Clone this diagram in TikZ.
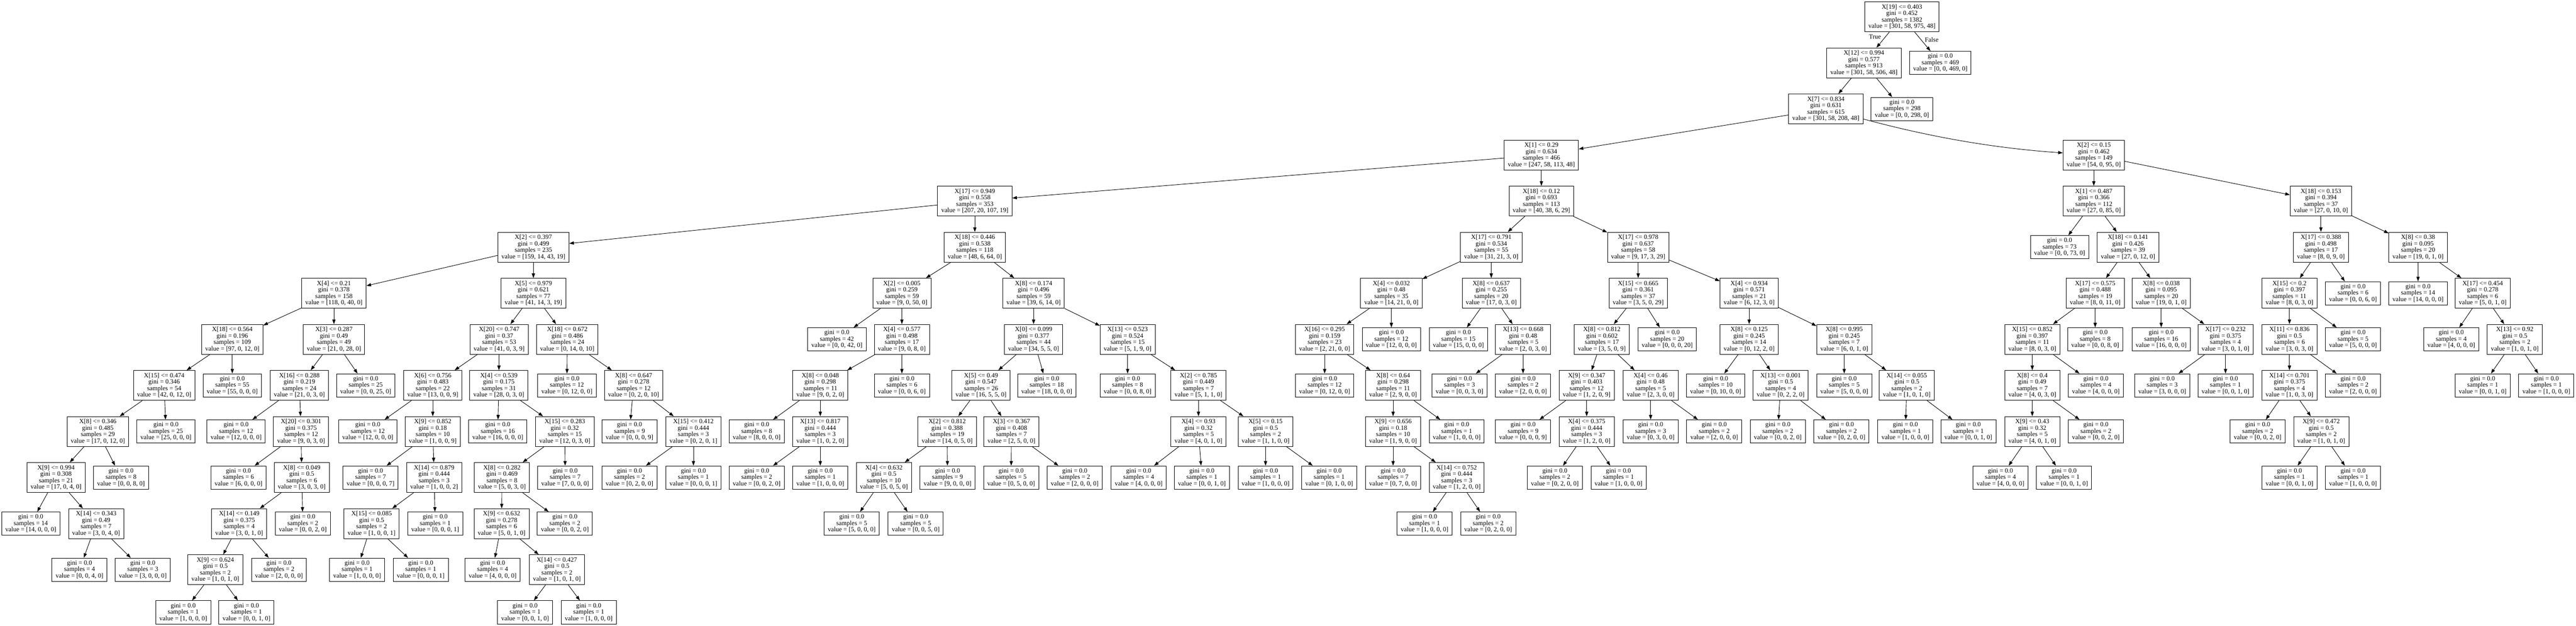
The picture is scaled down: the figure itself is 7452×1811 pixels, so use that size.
\documentclass[tikz,border=0pt]{standalone}
\usepackage{fontspec}
\setmainfont{Liberation Serif}
\usetikzlibrary{arrows.meta}
\tikzset{
  split/.style={draw, line width=1pt, align=center, inner xsep=8pt, inner ysep=1pt, minimum height=65pt, font=\fontsize{14}{14}\selectfont},
  leaf/.style={draw, line width=1pt, align=center, inner xsep=8pt, inner ysep=1pt, minimum height=50.5pt, font=\fontsize{14}{14}\selectfont},
  lbl/.style={inner sep=0pt, font=\fontsize{14}{14}\selectfont},
  edge/.style={-{Triangle[length=10pt,width=7pt]}, line width=1pt}
}
\newcommand\mysplit[7]{\node[split] (#1) at (#2,#3) {#4\\gini = #5\\samples = #6\\value = [#7]};}
\newcommand\myleaf[5]{\node[leaf] (#1) at (#2,#3) {gini = 0.0\\samples = #4\\value = [#5]};}
\begin{document}
\begin{tikzpicture}[x=0.75pt, y=-0.75pt]
\fill[white] (0,0) rectangle (7452,1811);
\useasboundingbox (0,0) rectangle (7452,1811);
% rank 0-3
\mysplit{n0}{5502}{48.6}{X[19] <= 0.403}{0.452}{1382}{301, 58, 975, 48}
\mysplit{n1}{5392}{182}{X[12] <= 0.994}{0.577}{913}{301, 58, 506, 48}
\myleaf{l1}{5613}{182}{469}{0, 0, 469, 0}
\mysplit{n2}{5282}{315.4}{X[7] <= 0.834}{0.631}{615}{301, 58, 208, 48}
\myleaf{l2}{5502}{315.4}{298}{0, 0, 298, 0}
\mysplit{n3}{4459}{448.8}{X[1] <= 0.29}{0.634}{466}{247, 58, 113, 48}
\mysplit{n67}{6057}{448.8}{X[2] <= 0.15}{0.462}{149}{54, 0, 95, 0}
% left big subtree
\mysplit{n4}{2820}{582.2}{X[17] <= 0.949}{0.558}{353}{207, 20, 107, 19}
\mysplit{n47}{4459}{582.2}{X[18] <= 0.12}{0.693}{113}{40, 38, 6, 29}
\mysplit{n5}{1543}{715.6}{X[2] <= 0.397}{0.499}{235}{159, 14, 43, 19}
\mysplit{n32}{2820}{715.6}{X[18] <= 0.446}{0.538}{118}{48, 6, 64, 0}
\mysplit{n6}{966}{849}{X[4] <= 0.21}{0.378}{158}{118, 0, 40, 0}
\mysplit{n18}{1543}{849}{X[5] <= 0.979}{0.621}{77}{41, 14, 3, 19}
\mysplit{n7}{672}{982.4}{X[18] <= 0.564}{0.196}{109}{97, 0, 12, 0}
\mysplit{n12}{966}{982.4}{X[3] <= 0.287}{0.49}{49}{21, 0, 28, 0}
\mysplit{n8}{475}{1115.8}{X[15] <= 0.474}{0.346}{54}{42, 0, 12, 0}
\myleaf{l3}{672}{1115.8}{55}{55, 0, 0, 0}
\mysplit{n9}{283}{1249.2}{X[8] <= 0.346}{0.485}{29}{17, 0, 12, 0}
\myleaf{l4}{480}{1249.2}{25}{25, 0, 0, 0}
\mysplit{n10}{162}{1382.6}{X[9] <= 0.994}{0.308}{21}{17, 0, 4, 0}
\myleaf{l5}{350}{1382.6}{8}{0, 0, 8, 0}
\myleaf{l6}{89}{1516}{14}{14, 0, 0, 0}
\mysplit{n11}{278}{1516}{X[14] <= 0.343}{0.49}{7}{3, 0, 4, 0}
\myleaf{l7}{230}{1649.4}{4}{0, 0, 4, 0}
\myleaf{l8}{413}{1649.4}{3}{3, 0, 0, 0}
\mysplit{n13}{866}{1115.8}{X[16] <= 0.288}{0.219}{24}{21, 0, 3, 0}
\myleaf{l9}{1058}{1115.8}{25}{0, 0, 25, 0}
\myleaf{l10}{683}{1249.2}{12}{12, 0, 0, 0}
\mysplit{n14}{871}{1249.2}{X[20] <= 0.301}{0.375}{12}{9, 0, 3, 0}
\myleaf{l11}{690}{1382.6}{6}{6, 0, 0, 0}
\mysplit{n15}{873}{1382.6}{X[8] <= 0.049}{0.5}{6}{3, 0, 3, 0}
\mysplit{n16}{692}{1516}{X[14] <= 0.149}{0.375}{4}{3, 0, 1, 0}
\myleaf{l12}{876}{1516}{2}{0, 0, 2, 0}
\mysplit{n17}{623}{1649.4}{X[9] <= 0.624}{0.5}{2}{1, 0, 1, 0}
\myleaf{l13}{807}{1649.4}{2}{2, 0, 0, 0}
\myleaf{l14}{530}{1772.7}{1}{1, 0, 0, 0}
\myleaf{l15}{713}{1772.7}{1}{0, 0, 1, 0}
\mysplit{n19}{1444}{982.4}{X[20] <= 0.747}{0.37}{53}{41, 0, 3, 9}
\mysplit{n29}{1641}{982.4}{X[18] <= 0.672}{0.486}{24}{0, 14, 0, 10}
\mysplit{n20}{1252}{1115.8}{X[6] <= 0.756}{0.483}{22}{13, 0, 0, 9}
\mysplit{n24}{1443}{1115.8}{X[4] <= 0.539}{0.175}{31}{28, 0, 3, 0}
\myleaf{l16}{1064}{1249.2}{12}{12, 0, 0, 0}
\mysplit{n21}{1252}{1249.2}{X[9] <= 0.852}{0.18}{10}{1, 0, 0, 9}
\myleaf{l17}{1072}{1382.6}{7}{0, 0, 0, 7}
\mysplit{n22}{1256}{1382.6}{X[14] <= 0.879}{0.444}{3}{1, 0, 0, 2}
\mysplit{n23}{1075}{1516}{X[15] <= 0.085}{0.5}{2}{1, 0, 0, 1}
\myleaf{l18}{1259}{1516}{1}{0, 0, 0, 1}
\myleaf{l19}{1033}{1649.4}{1}{1, 0, 0, 0}
\myleaf{l20}{1217}{1649.4}{1}{0, 0, 0, 1}
\myleaf{l21}{1440}{1249.2}{16}{16, 0, 0, 0}
\mysplit{n25}{1634}{1249.2}{X[15] <= 0.283}{0.32}{15}{12, 0, 3, 0}
\mysplit{n26}{1452}{1382.6}{X[8] <= 0.282}{0.469}{8}{5, 0, 3, 0}
\myleaf{l22}{1635}{1382.6}{7}{7, 0, 0, 0}
\mysplit{n27}{1451}{1516}{X[9] <= 0.632}{0.278}{6}{5, 0, 1, 0}
\myleaf{l23}{1634}{1516}{2}{0, 0, 2, 0}
\myleaf{l24}{1425}{1649.4}{4}{4, 0, 0, 0}
\mysplit{n28}{1611}{1649.4}{X[14] <= 0.427}{0.5}{2}{1, 0, 1, 0}
\myleaf{l25}{1519}{1772.7}{1}{0, 0, 1, 0}
\myleaf{l26}{1703}{1772.7}{1}{1, 0, 0, 0}
\myleaf{l27}{1640}{1115.8}{12}{0, 12, 0, 0}
\mysplit{n30}{1833}{1115.8}{X[8] <= 0.647}{0.278}{12}{0, 2, 0, 10}
\myleaf{l28}{1821}{1249.2}{9}{0, 0, 0, 9}
\mysplit{n31}{2006}{1249.2}{X[15] <= 0.412}{0.444}{3}{0, 2, 0, 1}
\myleaf{l29}{1821}{1382.6}{2}{0, 2, 0, 0}
\myleaf{l30}{2006}{1382.6}{1}{0, 0, 0, 1}
\mysplit{n33}{2609}{849}{X[2] <= 0.005}{0.259}{59}{9, 0, 50, 0}
\mysplit{n37}{2990}{849}{X[8] <= 0.174}{0.496}{59}{39, 6, 14, 0}
\myleaf{l31}{2421}{982.4}{42}{0, 0, 42, 0}
\mysplit{n34}{2609}{982.4}{X[4] <= 0.577}{0.498}{17}{9, 0, 8, 0}
\mysplit{n35}{2373}{1115.8}{X[8] <= 0.048}{0.298}{11}{9, 0, 2, 0}
\myleaf{l32}{2609}{1115.8}{6}{0, 0, 6, 0}
\myleaf{l33}{2189}{1249.2}{8}{8, 0, 0, 0}
\mysplit{n36}{2373}{1249.2}{X[13] <= 0.817}{0.444}{3}{1, 0, 2, 0}
\myleaf{l34}{2189}{1382.6}{2}{0, 0, 2, 0}
\myleaf{l35}{2373}{1382.6}{1}{1, 0, 0, 0}
\mysplit{n38}{2990}{982.4}{X[0] <= 0.099}{0.377}{44}{34, 5, 5, 0}
\mysplit{n43}{3262}{982.4}{X[13] <= 0.523}{0.524}{15}{5, 1, 9, 0}
\mysplit{n39}{2838}{1115.8}{X[5] <= 0.49}{0.547}{26}{16, 5, 5, 0}
\myleaf{l36}{3028}{1115.8}{18}{18, 0, 0, 0}
\mysplit{n40}{2740}{1249.2}{X[2] <= 0.812}{0.388}{19}{14, 0, 5, 0}
\mysplit{n42}{2926}{1249.2}{X[3] <= 0.367}{0.408}{7}{2, 5, 0, 0}
\mysplit{n41}{2557}{1382.6}{X[4] <= 0.632}{0.5}{10}{5, 0, 5, 0}
\myleaf{l37}{2741}{1382.6}{9}{9, 0, 0, 0}
\myleaf{l38}{2464}{1516}{5}{5, 0, 0, 0}
\myleaf{l39}{2649}{1516}{5}{0, 0, 5, 0}
\myleaf{l40}{2925}{1382.6}{5}{0, 5, 0, 0}
\myleaf{l41}{3109}{1382.6}{2}{2, 0, 0, 0}
\myleaf{l42}{3262}{1115.8}{8}{0, 0, 8, 0}
\mysplit{n44}{3467}{1115.8}{X[2] <= 0.785}{0.449}{7}{5, 1, 1, 0}
\mysplit{n45}{3467}{1249.2}{X[4] <= 0.93}{0.32}{5}{4, 0, 1, 0}
\mysplit{n46}{3661}{1249.2}{X[5] <= 0.15}{0.5}{2}{1, 1, 0, 0}
\myleaf{l43}{3294}{1382.6}{4}{4, 0, 0, 0}
\myleaf{l44}{3477}{1382.6}{1}{0, 0, 1, 0}
\myleaf{l45}{3661}{1382.6}{1}{1, 0, 0, 0}
\myleaf{l46}{3845}{1382.6}{1}{0, 1, 0, 0}
% X[18] <= 0.12 subtree
\mysplit{n48}{4314}{715.6}{X[17] <= 0.791}{0.534}{55}{31, 21, 3, 0}
\mysplit{n56}{4739}{715.6}{X[17] <= 0.978}{0.637}{58}{9, 17, 3, 29}
\mysplit{n49}{4025}{849}{X[4] <= 0.032}{0.48}{35}{14, 21, 0, 0}
\mysplit{n54}{4314}{849}{X[8] <= 0.637}{0.255}{20}{17, 0, 3, 0}
\mysplit{n50}{3832}{982.4}{X[16] <= 0.295}{0.159}{23}{2, 21, 0, 0}
\myleaf{l47}{4025}{982.4}{12}{12, 0, 0, 0}
\myleaf{l48}{3832}{1115.8}{12}{0, 12, 0, 0}
\mysplit{n51}{4030}{1115.8}{X[8] <= 0.64}{0.298}{11}{2, 9, 0, 0}
\mysplit{n52}{4030}{1249.2}{X[9] <= 0.656}{0.18}{10}{1, 9, 0, 0}
\myleaf{l49}{4214}{1249.2}{1}{1, 0, 0, 0}
\myleaf{l50}{4030}{1382.6}{7}{0, 7, 0, 0}
\mysplit{n53}{4214}{1382.6}{X[14] <= 0.752}{0.444}{3}{1, 2, 0, 0}
\myleaf{l51}{4121}{1516}{1}{1, 0, 0, 0}
\myleaf{l52}{4305}{1516}{2}{0, 2, 0, 0}
\myleaf{l53}{4219}{982.4}{15}{15, 0, 0, 0}
\mysplit{n55}{4406}{982.4}{X[13] <= 0.668}{0.48}{5}{2, 0, 3, 0}
\myleaf{l54}{4222}{1115.8}{3}{0, 0, 3, 0}
\myleaf{l55}{4406}{1115.8}{2}{2, 0, 0, 0}
\mysplit{n57}{4739}{849}{X[15] <= 0.665}{0.361}{37}{3, 5, 0, 29}
\mysplit{n62}{5060}{849}{X[4] <= 0.934}{0.571}{21}{6, 12, 3, 0}
\mysplit{n58}{4634}{982.4}{X[8] <= 0.812}{0.602}{17}{3, 5, 0, 9}
\myleaf{l56}{4823}{982.4}{20}{0, 0, 0, 20}
\mysplit{n59}{4590}{1115.8}{X[9] <= 0.347}{0.403}{12}{1, 2, 0, 9}
\mysplit{n61}{4775}{1115.8}{X[4] <= 0.46}{0.48}{5}{2, 3, 0, 0}
\myleaf{l57}{4406}{1249.2}{9}{0, 0, 0, 9}
\mysplit{n60}{4590}{1249.2}{X[4] <= 0.375}{0.444}{3}{1, 2, 0, 0}
\myleaf{l58}{4498}{1382.6}{2}{0, 2, 0, 0}
\myleaf{l59}{4682}{1382.6}{1}{1, 0, 0, 0}
\myleaf{l60}{4775}{1249.2}{3}{0, 3, 0, 0}
\myleaf{l61}{4959}{1249.2}{2}{2, 0, 0, 0}
\mysplit{n63}{5060}{982.4}{X[8] <= 0.125}{0.245}{14}{0, 12, 2, 0}
\mysplit{n65}{5335}{982.4}{X[8] <= 0.995}{0.245}{7}{6, 0, 1, 0}
\myleaf{l62}{4963}{1115.8}{10}{0, 10, 0, 0}
\mysplit{n64}{5151}{1115.8}{X[13] <= 0.001}{0.5}{4}{0, 2, 2, 0}
\myleaf{l63}{5143}{1249.2}{2}{0, 0, 2, 0}
\myleaf{l64}{5327}{1249.2}{2}{0, 2, 0, 0}
\myleaf{l65}{5335}{1115.8}{5}{5, 0, 0, 0}
\mysplit{n66}{5516}{1115.8}{X[14] <= 0.055}{0.5}{2}{1, 0, 1, 0}
\myleaf{l66}{5512}{1249.2}{1}{1, 0, 0, 0}
\myleaf{l67}{5694}{1249.2}{1}{0, 0, 1, 0}
% right subtree
\mysplit{n68}{6057}{582.2}{X[1] <= 0.487}{0.366}{112}{27, 0, 85, 0}
\mysplit{n76}{6714}{582.2}{X[18] <= 0.153}{0.394}{37}{27, 0, 10, 0}
\myleaf{l68}{5958}{715.6}{73}{0, 0, 73, 0}
\mysplit{n69}{6156}{715.6}{X[18] <= 0.141}{0.426}{39}{27, 0, 12, 0}
\mysplit{n70}{6061}{849}{X[17] <= 0.575}{0.488}{19}{8, 0, 11, 0}
\mysplit{n74}{6252}{849}{X[8] <= 0.038}{0.095}{20}{19, 0, 1, 0}
\mysplit{n71}{5879}{982.4}{X[15] <= 0.852}{0.397}{11}{8, 0, 3, 0}
\myleaf{l69}{6061}{982.4}{8}{0, 0, 8, 0}
\mysplit{n72}{5879}{1115.8}{X[8] <= 0.4}{0.49}{7}{4, 0, 3, 0}
\myleaf{l70}{6063}{1115.8}{4}{4, 0, 0, 0}
\mysplit{n73}{5879}{1249.2}{X[9] <= 0.43}{0.32}{5}{4, 0, 1, 0}
\myleaf{l71}{6063}{1249.2}{2}{0, 0, 2, 0}
\myleaf{l72}{5787}{1382.6}{4}{4, 0, 0, 0}
\myleaf{l73}{5971}{1382.6}{1}{0, 0, 1, 0}
\myleaf{l74}{6252}{982.4}{16}{16, 0, 0, 0}
\mysplit{n75}{6438}{982.4}{X[17] <= 0.232}{0.375}{4}{3, 0, 1, 0}
\myleaf{l75}{6255}{1115.8}{3}{3, 0, 0, 0}
\myleaf{l76}{6438}{1115.8}{1}{0, 0, 1, 0}
\mysplit{n77}{6714}{715.6}{X[17] <= 0.388}{0.498}{17}{8, 0, 9, 0}
\mysplit{n82}{6995}{715.6}{X[8] <= 0.38}{0.095}{20}{19, 0, 1, 0}
\mysplit{n78}{6623}{849}{X[15] <= 0.2}{0.397}{11}{8, 0, 3, 0}
\myleaf{l77}{6807}{849}{6}{0, 0, 6, 0}
\mysplit{n79}{6623}{982.4}{X[11] <= 0.836}{0.5}{6}{3, 0, 3, 0}
\myleaf{l78}{6807}{982.4}{5}{5, 0, 0, 0}
\mysplit{n80}{6623}{1115.8}{X[14] <= 0.701}{0.375}{4}{1, 0, 3, 0}
\myleaf{l79}{6807}{1115.8}{2}{2, 0, 0, 0}
\myleaf{l80}{6531}{1249.2}{2}{0, 0, 2, 0}
\mysplit{n81}{6715}{1249.2}{X[9] <= 0.472}{0.5}{2}{1, 0, 1, 0}
\myleaf{l81}{6623}{1382.6}{1}{0, 0, 1, 0}
\myleaf{l82}{6807}{1382.6}{1}{1, 0, 0, 0}
\myleaf{l83}{6995}{849}{14}{14, 0, 0, 0}
\mysplit{n83}{7182}{849}{X[17] <= 0.454}{0.278}{6}{5, 0, 1, 0}
\myleaf{l84}{7091}{982.4}{4}{4, 0, 0, 0}
\mysplit{n84}{7275}{982.4}{X[13] <= 0.92}{0.5}{2}{1, 0, 1, 0}
\myleaf{l85}{7182}{1115.8}{1}{0, 0, 1, 0}
\myleaf{l86}{7366}{1115.8}{1}{1, 0, 0, 0}
% labels
\node[lbl] (tlab) at (5424,106) {True};
\node[lbl] (flab) at (5588,115) {False};
% edges
\foreach \a/\b in {n0/n1, n0/l1, n1/n2, n1/l2, n2/n3, n3/n4, n3/n47,
  n4/n5, n4/n32, n5/n6, n5/n18, n6/n7, n6/n12, n7/n8, n7/l3, n8/n9, n8/l4,
  n9/n10, n9/l5, n10/l6, n10/n11, n11/l7, n11/l8, n12/n13, n12/l9,
  n13/l10, n13/n14, n14/l11, n14/n15, n15/n16, n15/l12, n16/n17, n16/l13,
  n17/l14, n17/l15, n18/n19, n18/n29, n19/n20, n19/n24, n20/l16, n20/n21,
  n21/l17, n21/n22, n22/n23, n22/l18, n23/l19, n23/l20, n24/l21, n24/n25,
  n25/n26, n25/l22, n26/n27, n26/l23, n27/l24, n27/n28, n28/l25, n28/l26,
  n29/l27, n29/n30, n30/l28, n30/n31, n31/l29, n31/l30,
  n32/n33, n32/n37, n33/l31, n33/n34, n34/n35, n34/l32, n35/l33, n35/n36,
  n36/l34, n36/l35, n37/n38, n37/n43, n38/n39, n38/l36, n39/n40, n39/n42,
  n40/n41, n40/l37, n41/l38, n41/l39, n42/l40, n42/l41, n43/l42, n43/n44,
  n44/n45, n44/n46, n45/l43, n45/l44, n46/l45, n46/l46,
  n47/n48, n47/n56, n48/n49, n48/n54, n49/n50, n49/l47, n50/l48, n50/n51,
  n51/n52, n51/l49, n52/l50, n52/n53, n53/l51, n53/l52, n54/l53, n54/n55,
  n55/l54, n55/l55, n56/n57, n56/n62, n57/n58, n57/l56, n58/n59, n58/n61,
  n59/l57, n59/n60, n60/l58, n60/l59, n61/l60, n61/l61, n62/n63, n62/n65,
  n63/l62, n63/n64, n64/l63, n64/l64, n65/l65, n65/n66, n66/l66, n66/l67,
  n67/n68, n67/n76, n68/l68, n68/n69, n69/n70, n69/n74, n70/n71, n70/l69,
  n71/n72, n71/l70, n72/n73, n72/l71, n73/l72, n73/l73, n74/l74, n74/n75,
  n75/l75, n75/l76, n76/n77, n76/n82, n77/n78, n77/l77, n78/n79, n78/l78,
  n79/n80, n79/l79, n80/l80, n80/n81, n81/l81, n81/l82, n82/l83, n82/n83,
  n83/l84, n83/n84, n84/l85, n84/l86}
  \draw[edge] (\a) -- (\b);
\draw[edge] (n2) .. controls (5585,397) and (5769,429) .. (n67);
\end{tikzpicture}
\end{document}
